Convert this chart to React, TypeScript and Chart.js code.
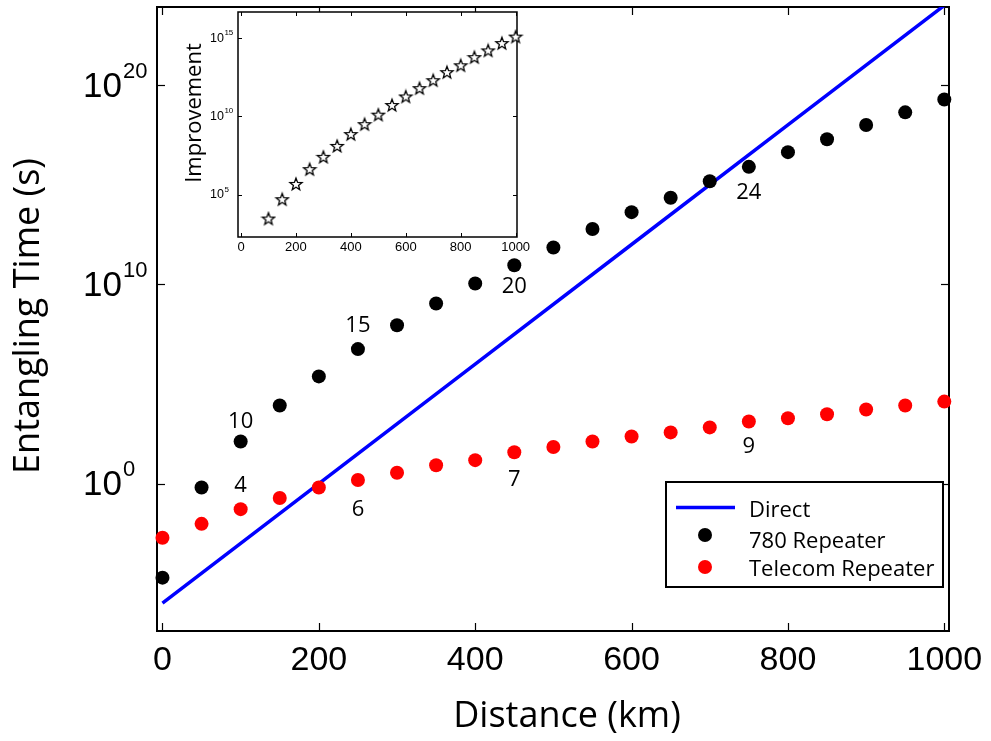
import React, { useEffect, useRef } from 'react';
import { Chart, registerables } from 'chart.js';

Chart.register(...registerables);

// ---------- DATA ----------
const distances = [0, 50, 100, 150, 200, 250, 300, 350, 400, 450, 500, 550, 600, 650, 700, 750, 800, 850, 900, 950, 1000];
const repeater780 = [1.9e-5, 0.63, 1.3e2, 8.3e3, 2.4e5, 5.6e6, 8.9e7, 1.1e9, 1.1e10, 9.1e10, 7.1e11, 6.0e12, 4.2e13, 2.2e14, 1.5e15, 7.9e15, 4.3e16, 1.9e17, 1.0e18, 4.3e18, 1.9e19];
const telecomRepeater = [1.9e-3, 9.5e-3, 5.2e-2, 0.19, 0.63, 1.5, 3.5, 8.3, 15, 37, 68, 1.3e2, 2.3e2, 3.7e2, 6.6e2, 1.3e3, 1.9e3, 3.0e3, 5.2e3, 8.3e3, 1.3e4];
const directDistances = [0, 200, 400, 600, 800, 1000];
const directTime = [1e-6, 1, 1e6, 1e12, 1e18, 1e24];

const annotationTexts = ['10', '4', '6', '15', '20', '24', '7', '9'];
const annotationX = [100, 100, 250, 250, 450, 750, 450, 750];
const annotationY = [1.26e3, 0.76, 0.047, 8.5e7, 7.4e9, 4.0e14, 1.5, 71];

const xTicks = [0, 200, 400, 600, 800, 1000];
const yTickExponents = [0, 10, 20];

const improvementDistances = [100, 150, 200, 250, 300, 350, 400, 450, 500, 550, 600, 650, 700, 750, 800, 850, 900, 950, 1000];
const improvement = [2.9e3, 5.0e4, 4.8e5, 4.2e6, 2.6e7, 1.3e8, 7.4e8, 3.2e9, 1.3e10, 5.4e10, 1.9e11, 6.5e11, 2.1e12, 6.9e12, 1.9e13, 6.3e13, 1.7e14, 5.0e14, 1.3e15];
const insetXTicks = [0, 200, 400, 600, 800, 1000];
const insetYTickExponents = [5, 10, 15];

const legendLabels = ['Direct', '780 Repeater', 'Telecom Repeater'];

const HELV = '"Liberation Sans", Arial, Helvetica, sans-serif';
const MYRIAD = '"Open Sans", "Noto Sans", sans-serif';

function makeStar(): HTMLCanvasElement {
  const c = document.createElement('canvas');
  c.width = 16;
  c.height = 16;
  const g = c.getContext('2d')!;
  g.beginPath();
  for (let i = 0; i < 10; i++) {
    const r = i % 2 === 0 ? 6.4 : 2.7;
    const a = -Math.PI / 2 + (i * Math.PI) / 5;
    const px = 8 + r * Math.cos(a);
    const py = 8.6 + r * Math.sin(a);
    if (i === 0) g.moveTo(px, py);
    else g.lineTo(px, py);
  }
  g.closePath();
  g.fillStyle = '#fff';
  g.fill();
  g.lineWidth = 1.3;
  g.lineJoin = 'miter';
  g.strokeStyle = '#000';
  g.stroke();
  return c;
}

function seg(ctx: CanvasRenderingContext2D, x1: number, y1: number, x2: number, y2: number) {
  ctx.beginPath();
  ctx.moveTo(x1, y1);
  ctx.lineTo(x2, y2);
  ctx.stroke();
}

const mainDecor = {
  id: 'mainDecor',
  beforeDatasetsDraw(chart: any) {
    const { ctx, chartArea: a, scales } = chart;
    const x = scales.x, y = scales.y;
    ctx.save();
    ctx.strokeStyle = '#000';
    ctx.lineWidth = 2;
    ctx.strokeRect(a.left, a.top, a.right - a.left, a.bottom - a.top);
    ctx.lineWidth = 1.2;
    xTicks.forEach((v) => {
      const px = Math.round(x.getPixelForValue(v)) + 0.5;
      seg(ctx, px, a.bottom, px, a.bottom - 8);
      seg(ctx, px, a.top, px, a.top + 8);
    });
    yTickExponents.forEach((e) => {
      const py = Math.round(y.getPixelForValue(Math.pow(10, e))) + 0.5;
      seg(ctx, a.left, py, a.left + 8, py);
      seg(ctx, a.right, py, a.right - 8, py);
    });
    ctx.restore();
  },
  afterDatasetsDraw(chart: any) {
    const { ctx, chartArea: a, scales } = chart;
    const x = scales.x, y = scales.y;
    ctx.save();
    ctx.fillStyle = '#000';
    // x tick labels
    ctx.font = `34px ${HELV}`;
    ctx.textAlign = 'center';
    ctx.textBaseline = 'alphabetic';
    xTicks.forEach((v) => {
      ctx.fillText(String(v), x.getPixelForValue(v), a.bottom + 38.5);
    });
    // y tick labels 10^n
    yTickExponents.forEach((e) => {
      const py = y.getPixelForValue(Math.pow(10, e));
      ctx.font = `35px ${HELV}`;
      ctx.textAlign = 'left';
      ctx.textBaseline = 'middle';
      const lx = 83;
      ctx.fillText('10', lx, py + 2);
      const w = ctx.measureText('10').width;
      ctx.font = `22px ${HELV}`;
      ctx.textBaseline = 'alphabetic';
      ctx.fillText(String(e), lx + w + 1, py - 7.5);
    });
    // axis titles
    ctx.font = `36px ${MYRIAD}`;
    ctx.textAlign = 'center';
    ctx.textBaseline = 'alphabetic';
    ctx.fillText('Distance (km)', 567, 727);
    ctx.save();
    ctx.translate(39, 316);
    ctx.rotate(-Math.PI / 2);
    ctx.fillText('Entangling Time (s)', 0, 0);
    ctx.restore();
    // annotations
    ctx.font = `22px ${MYRIAD}`;
    ctx.textAlign = 'center';
    ctx.textBaseline = 'middle';
    annotationTexts.forEach((t, i) => {
      ctx.fillText(t, x.getPixelForValue(annotationX[i]), y.getPixelForValue(annotationY[i]));
    });
    // legend
    const lx0 = 666, ly0 = 482, lw = 277, lh = 105;
    ctx.fillStyle = '#fff';
    ctx.fillRect(lx0, ly0, lw, lh);
    ctx.strokeStyle = '#000';
    ctx.lineWidth = 2;
    ctx.strokeRect(lx0, ly0, lw, lh);
    ctx.strokeStyle = '#0000ff';
    ctx.lineWidth = 3.5;
    seg(ctx, 676, 507.5, 735, 507.5);
    ctx.fillStyle = '#000';
    ctx.beginPath();
    ctx.arc(705, 535, 7, 0, Math.PI * 2);
    ctx.fill();
    ctx.fillStyle = '#ff0000';
    ctx.beginPath();
    ctx.arc(705, 567, 7, 0, Math.PI * 2);
    ctx.fill();
    ctx.fillStyle = '#000';
    ctx.font = `22px ${MYRIAD}`;
    ctx.textAlign = 'left';
    ctx.textBaseline = 'alphabetic';
    const baselines = [516.5, 548, 576];
    legendLabels.forEach((t, i) => ctx.fillText(t, 749, baselines[i]));
    ctx.restore();
  },
};

const insetDecor = {
  id: 'insetDecor',
  beforeDraw(chart: any) {
    const { ctx, chartArea: a } = chart;
    ctx.save();
    ctx.fillStyle = '#fff';
    ctx.fillRect(a.left, a.top, a.right - a.left, a.bottom - a.top);
    ctx.restore();
  },
  beforeDatasetsDraw(chart: any) {
    const { ctx, chartArea: a, scales } = chart;
    const x = scales.x, y = scales.y;
    ctx.save();
    ctx.strokeStyle = '#000';
    ctx.lineWidth = 1.5;
    ctx.strokeRect(a.left, a.top, a.right - a.left, a.bottom - a.top);
    ctx.lineWidth = 1;
    insetXTicks.forEach((v) => {
      const px = Math.round(x.getPixelForValue(v)) + 0.5;
      seg(ctx, px, a.bottom, px, a.bottom - 4);
      seg(ctx, px, a.top, px, a.top + 4);
    });
    insetYTickExponents.forEach((e) => {
      const py = Math.round(y.getPixelForValue(Math.pow(10, e))) + 0.5;
      seg(ctx, a.left, py, a.left + 4, py);
      seg(ctx, a.right, py, a.right - 4, py);
    });
    ctx.fillStyle = '#000';
    ctx.font = `13px ${HELV}`;
    ctx.textAlign = 'center';
    ctx.textBaseline = 'alphabetic';
    insetXTicks.forEach((v) => {
      ctx.fillText(String(v), x.getPixelForValue(v), a.bottom + 14);
    });
    insetYTickExponents.forEach((e) => {
      const py = y.getPixelForValue(Math.pow(10, e));
      ctx.font = `12.5px ${HELV}`;
      ctx.textAlign = 'left';
      ctx.textBaseline = 'middle';
      const lx = 40;
      ctx.fillText('10', lx, py + 0.5);
      const w = ctx.measureText('10').width;
      ctx.font = `8px ${HELV}`;
      ctx.textBaseline = 'alphabetic';
      ctx.fillText(String(e), lx + w + 0.5, py - 3);
    });
    ctx.font = `22px ${MYRIAD}`;
    ctx.textAlign = 'center';
    ctx.translate(31, 113);
    ctx.rotate(-Math.PI / 2);
    ctx.fillText('Improvement', 0, 0);
    ctx.restore();
  },
};

export default function App() {
  const mainRef = useRef<HTMLCanvasElement>(null);
  const insetRef = useRef<HTMLCanvasElement>(null);

  useEffect(() => {
    document.body.style.margin = '0';
    const star = makeStar();
    const main = new Chart(mainRef.current!, {
      type: 'scatter',
      data: {
        datasets: [
          {
            type: 'line',
            label: legendLabels[0],
            data: directDistances.map((d, i) => ({ x: d, y: directTime[i] })),
            borderColor: '#0000ff',
            borderWidth: 3.5,
            pointRadius: 0,
            fill: false,
            order: 3,
          } as any,
          {
            label: legendLabels[1],
            data: distances.map((d, i) => ({ x: d, y: repeater780[i] })),
            backgroundColor: '#000000',
            borderWidth: 0,
            pointRadius: 7,
            clip: false,
            order: 2,
          },
          {
            label: legendLabels[2],
            data: distances.map((d, i) => ({ x: d, y: telecomRepeater[i] })),
            backgroundColor: '#ff0000',
            borderWidth: 0,
            pointRadius: 7,
            clip: false,
            order: 1,
          },
        ],
      },
      options: {
        responsive: false,
        animation: false,
        layout: { padding: { left: 157, right: 42, top: 4, bottom: 110 } },
        plugins: { legend: { display: false }, tooltip: { enabled: false } },
        scales: {
          x: {
            type: 'linear',
            min: -7,
            max: 1006,
            ticks: { display: false },
            grid: { display: false },
            border: { display: false },
            afterFit: (s: any) => { s.height = 0; },
          },
          y: {
            type: 'logarithmic',
            min: Math.pow(10, -7.4),
            max: Math.pow(10, 23.92),
            ticks: { display: false },
            grid: { display: false },
            border: { display: false },
            afterFit: (s: any) => { s.width = 0; },
          },
        },
      },
      plugins: [mainDecor],
    });

    const inset = new Chart(insetRef.current!, {
      type: 'scatter',
      data: {
        datasets: [
          {
            label: 'Improvement',
            data: improvementDistances.map((d, i) => ({ x: d, y: improvement[i] })),
            pointStyle: star as any,
            pointRadius: 6,
            clip: false,
          },
        ],
      },
      options: {
        responsive: false,
        animation: false,
        layout: { padding: { left: 68, right: 23, top: 12, bottom: 23 } },
        plugins: { legend: { display: false }, tooltip: { enabled: false } },
        scales: {
          x: {
            type: 'linear',
            min: -11,
            max: 1005,
            ticks: { display: false },
            grid: { display: false },
            border: { display: false },
            afterFit: (s: any) => { s.height = 0; },
          },
          y: {
            type: 'logarithmic',
            min: Math.pow(10, 2.28),
            max: Math.pow(10, 16.69),
            ticks: { display: false },
            grid: { display: false },
            border: { display: false },
            afterFit: (s: any) => { s.width = 0; },
          },
        },
      },
      plugins: [insetDecor],
    });

    return () => {
      main.destroy();
      inset.destroy();
    };
  }, []);

  return (
    <div style={{ position: 'relative', width: 991, height: 741, background: '#fff' }}>
      <canvas ref={mainRef} width={991} height={741} style={{ display: 'block', position: 'absolute', left: 0, top: 0 }} />
      <canvas ref={insetRef} width={370} height={260} style={{ display: 'block', position: 'absolute', left: 170, top: 0 }} />
    </div>
  );
}
